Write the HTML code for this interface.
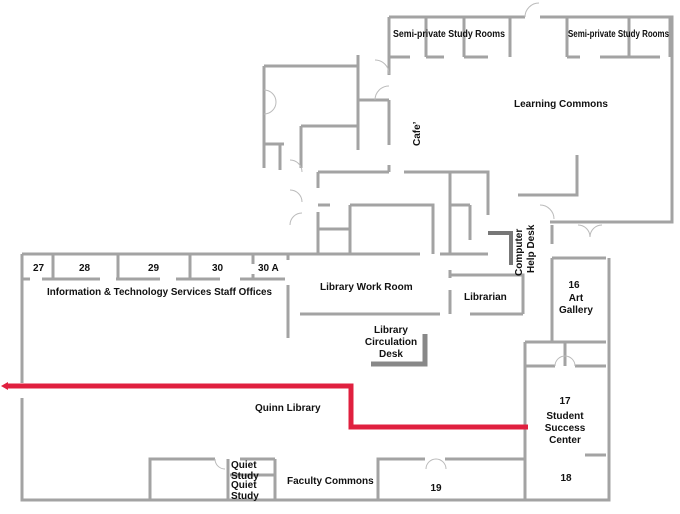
<!DOCTYPE html>
<html><head><meta charset="utf-8"><style>
html,body{margin:0;padding:0;background:#fff}
svg{display:block}
text{font-family:"Liberation Sans",sans-serif;font-size:10px;font-weight:bold;fill:#111}
</style></head><body>
<svg width="680" height="514" viewBox="0 0 680 514" xmlns="http://www.w3.org/2000/svg">
<g stroke="#a3a3a3" stroke-width="3" fill="none">
<path d="M22 254 H290 M22 254 V383 M22 398 V500 H609 V258"/>
<path d="M22 279 H30 M42 279 H100 M116 279 H160 M176 279 H220 M240 279 H285"/>
<path d="M53 254 V279 M118 254 V279 M190 254 V279 M253 254 V264 M253 274 V279"/>
<path d="M288 254 V260 M288 285 V338"/>
<path d="M300 314 H440 M470 314 H523 M450 275 H523 V314 M450 270 V278 M450 290 V314"/>
<path d="M525 342 V500 M525 342 H606 M525 366 H555 M575 366 H606 M565 342 V366 M585 455 H606"/>
<path d="M552 225 V244 M552 258 V342 M552 258 H606"/>
<path d="M150 500 V459 H215 M240 459 H275 M228 459 V500 M275 459 V500 M378 500 V459 H425 M445 459 H525"/>
<path d="M230 475 H275"/>
<path d="M389 17 H525 M540 17 H672 V222 H550"/>
<path d="M389 17 V62 M389 57 H410 M426 57 H444 M464 57 H488 M426 17 V57 M464 17 V57 M510 17 V57"/>
<path d="M567 17 V57 M567 57 H580 M600 57 H660 M629 17 V57 M670 17 V57"/>
<path d="M577 155 V195 H518"/>
<path d="M389 62 V75 M389 100 V145 M389 165 V172"/>
<path d="M264 66 V168 M264 66 H358 V55 M358 66 V100 H389 M358 100 V150 M301 126 V168 M301 126 H358 M280 144 V170 M264 144 H284"/>
<path d="M318 172 H389 M404 172 H488 V215 M318 172 V188 M318 212 V254 M450 172 V254 M450 205 H470 M470 205 V240"/>
<path d="M350 205 H433 V254 M350 205 V254 M318 229 H350 M318 205 H330 M290 254 H420 M440 254 H488"/>
</g>
<path d="M488 233 H511 V265" stroke="#777" stroke-width="4" fill="none"/>
<path d="M425 334 V364 H371" stroke="#888" stroke-width="5" fill="none"/>
<g stroke="#bbb" stroke-width="1" fill="none">
<path d="M525 17 A14 14 0 0 1 539 3"/>
<path d="M375 60 A14 14 0 0 1 389 74 M375 100 A14 14 0 0 1 389 86"/>
<path d="M264 90 A12 12 0 0 1 276 102 M264 114 A12 12 0 0 0 276 102"/>
<path d="M290 160 A12 12 0 0 1 302 172 M290 190 A12 12 0 0 1 302 202 M290 225 A12 12 0 0 1 302 213"/>
<path d="M540 205 A14 14 0 0 1 554 219 M578 225 A12 12 0 0 1 590 237 M602 225 A12 12 0 0 0 590 237"/>
<path d="M436 459 A10 10 0 0 1 446 469 M436 459 A10 10 0 0 0 426 469"/>
<path d="M215 459 A10 10 0 0 0 225 469"/>
<path d="M555 366 A10 10 0 0 1 565 356 M575 366 A10 10 0 0 0 565 356"/>
</g>
<path d="M6 386 H351 V427 H528" stroke="#e0203f" stroke-width="5" fill="none"/>
<path d="M1 386 L8 382 V390 Z" fill="#e0203f"/>
<text x="393" y="37" font-size="9" textLength="112" lengthAdjust="spacingAndGlyphs">Semi-private Study Rooms</text>
<text x="568" y="37" font-size="8.5" textLength="101" lengthAdjust="spacingAndGlyphs">Semi-private Study Rooms</text>
<text x="514" y="107">Learning Commons</text>
<text transform="translate(420,146) rotate(-90)">Cafe’</text>
<text transform="translate(522,276) rotate(-90)">Computer</text>
<text transform="translate(534,273) rotate(-90)">Help Desk</text>
<text x="33" y="271">27</text>
<text x="79" y="271">28</text>
<text x="148" y="271">29</text>
<text x="212" y="271">30</text>
<text x="258" y="271">30 A</text>
<text x="47" y="295" textLength="225" lengthAdjust="spacingAndGlyphs">Information &amp; Technology Services Staff Offices</text>
<text x="320" y="290">Library Work Room</text>
<text x="464" y="300">Librarian</text>
<text x="574" y="288" text-anchor="middle">16</text>
<text x="576" y="301" text-anchor="middle">Art</text>
<text x="576" y="313" text-anchor="middle">Gallery</text>
<text x="391" y="333" text-anchor="middle">Library</text>
<text x="391" y="345" text-anchor="middle">Circulation</text>
<text x="391" y="357" text-anchor="middle">Desk</text>
<text x="255" y="411">Quinn Library</text>
<text x="565" y="404" text-anchor="middle">17</text>
<text x="565" y="419" text-anchor="middle">Student</text>
<text x="565" y="431" text-anchor="middle">Success</text>
<text x="565" y="443" text-anchor="middle">Center</text>
<text x="566" y="481" text-anchor="middle">18</text>
<text x="436" y="491" text-anchor="middle">19</text>
<text x="287" y="484">Faculty Commons</text>
<text x="231" y="468">Quiet</text>
<text x="231" y="479">Study</text>
<text x="231" y="488">Quiet</text>
<text x="231" y="499">Study</text>
</svg>
</body></html>
